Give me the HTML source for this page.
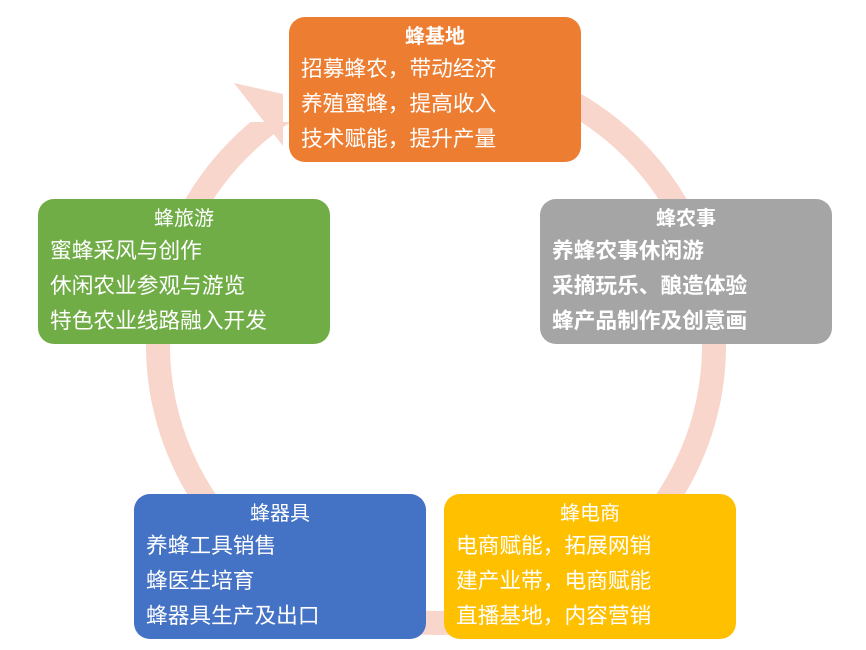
<!DOCTYPE html>
<html><head><meta charset="utf-8"><style>
body{margin:0;width:866px;height:650px;background:#fff;position:relative;overflow:hidden;font-family:"Liberation Sans","Noto Sans CJK SC",sans-serif}
.b{position:absolute;width:292px;height:145px;border-radius:16px;color:#fff;box-sizing:border-box}
.b .t{position:absolute;left:0;right:0;top:3px;text-align:center;font-size:20px}
.b .l{position:absolute;left:12px;font-size:21.7px;line-height:35px;top:34px;white-space:nowrap}
</style></head><body>
<svg width="866" height="650" style="position:absolute;left:0;top:0">
<circle cx="436" cy="345" r="278" fill="none" stroke="#F8D6CB" stroke-width="24"/>
<rect x="200" y="40" width="89" height="82" fill="#fff"/>
<polygon points="234,83 283,94 283,146" fill="#F8D6CB"/>
</svg>
<div class="b" style="left:289px;top:17px;background:#ED7D31"><div class="t" style="font-weight:bold">蜂基地</div><div class="l">招募蜂农，带动经济<br>养殖蜜蜂，提高收入<br>技术赋能，提升产量</div></div>
<div class="b" style="left:540px;top:199px;background:#A5A5A5"><div class="t" style="font-weight:bold">蜂农事</div><div class="l" style="font-weight:bold">养蜂农事休闲游<br>采摘玩乐、酿造体验<br>蜂产品制作及创意画</div></div>
<div class="b" style="left:38px;top:199px;background:#70AD47"><div class="t">蜂旅游</div><div class="l">蜜蜂采风与创作<br>休闲农业参观与游览<br>特色农业线路融入开发</div></div>
<div class="b" style="left:134px;top:494px;background:#4472C4"><div class="t">蜂器具</div><div class="l">养蜂工具销售<br>蜂医生培育<br>蜂器具生产及出口</div></div>
<div class="b" style="left:444px;top:494px;background:#FFC000"><div class="t">蜂电商</div><div class="l">电商赋能，拓展网销<br>建产业带，电商赋能<br>直播基地，内容营销</div></div>
</body></html>
